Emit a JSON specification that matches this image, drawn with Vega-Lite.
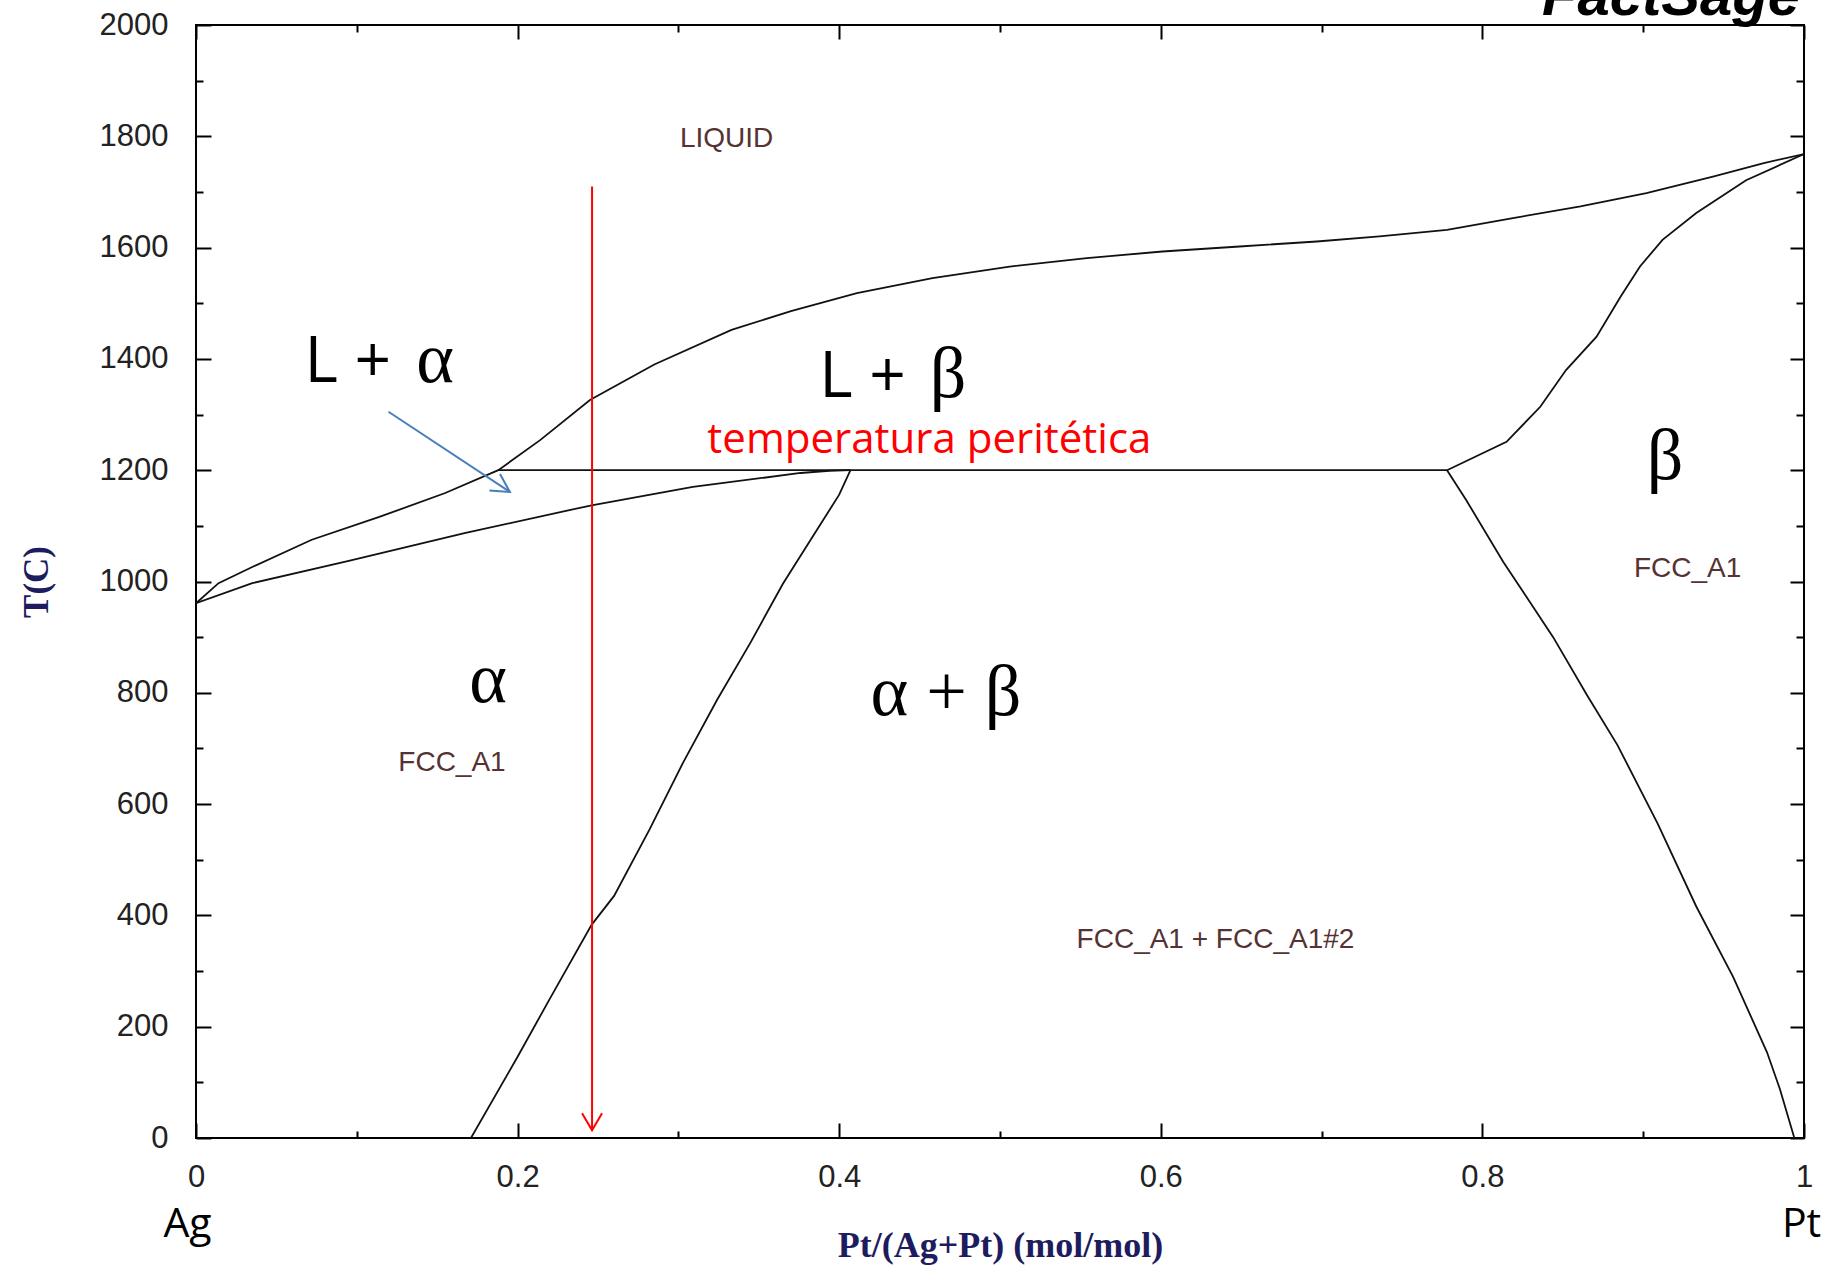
{
  "$schema": "https://vega.github.io/schema/vega-lite/v6.json",
  "width": 1608,
  "height": 1113,
  "autosize": {"type": "none"},
  "padding": {"left": 196, "top": 25, "right": 27, "bottom": 133},
  "background": "white",
  "config": {
    "view": {"stroke": "#000", "strokeWidth": 2},
    "axis": {"grid": false, "domain": false}
  },
  "datasets": {
    "curves": [
      {"curve": "liquidus", "i": 0, "x": 0, "T": 961},
      {"curve": "liquidus", "i": 1, "x": 0.014, "T": 997},
      {"curve": "liquidus", "i": 2, "x": 0.035, "T": 1026},
      {"curve": "liquidus", "i": 3, "x": 0.072, "T": 1075},
      {"curve": "liquidus", "i": 4, "x": 0.114, "T": 1116},
      {"curve": "liquidus", "i": 5, "x": 0.155, "T": 1159},
      {"curve": "liquidus", "i": 6, "x": 0.188, "T": 1200},
      {"curve": "liquidus", "i": 7, "x": 0.214, "T": 1254},
      {"curve": "liquidus", "i": 8, "x": 0.245, "T": 1326},
      {"curve": "liquidus", "i": 9, "x": 0.285, "T": 1390},
      {"curve": "liquidus", "i": 10, "x": 0.333, "T": 1452},
      {"curve": "liquidus", "i": 11, "x": 0.37, "T": 1486},
      {"curve": "liquidus", "i": 12, "x": 0.411, "T": 1518},
      {"curve": "liquidus", "i": 13, "x": 0.458, "T": 1545},
      {"curve": "liquidus", "i": 14, "x": 0.506, "T": 1566},
      {"curve": "liquidus", "i": 15, "x": 0.554, "T": 1581},
      {"curve": "liquidus", "i": 16, "x": 0.601, "T": 1593},
      {"curve": "liquidus", "i": 17, "x": 0.649, "T": 1602},
      {"curve": "liquidus", "i": 18, "x": 0.697, "T": 1611},
      {"curve": "liquidus", "i": 19, "x": 0.736, "T": 1620},
      {"curve": "liquidus", "i": 20, "x": 0.778, "T": 1632},
      {"curve": "liquidus", "i": 21, "x": 0.819, "T": 1653},
      {"curve": "liquidus", "i": 22, "x": 0.861, "T": 1674},
      {"curve": "liquidus", "i": 23, "x": 0.902, "T": 1698},
      {"curve": "liquidus", "i": 24, "x": 0.944, "T": 1728},
      {"curve": "liquidus", "i": 25, "x": 0.975, "T": 1752},
      {"curve": "liquidus", "i": 26, "x": 1, "T": 1768},
      {"curve": "solidusA", "i": 0, "x": 0, "T": 961},
      {"curve": "solidusA", "i": 1, "x": 0.035, "T": 997},
      {"curve": "solidusA", "i": 2, "x": 0.095, "T": 1037},
      {"curve": "solidusA", "i": 3, "x": 0.167, "T": 1087},
      {"curve": "solidusA", "i": 4, "x": 0.246, "T": 1137},
      {"curve": "solidusA", "i": 5, "x": 0.309, "T": 1170},
      {"curve": "solidusA", "i": 6, "x": 0.376, "T": 1195},
      {"curve": "solidusA", "i": 7, "x": 0.394, "T": 1199},
      {"curve": "solidusA", "i": 8, "x": 0.407, "T": 1200},
      {"curve": "solvusA", "i": 0, "x": 0.407, "T": 1200},
      {"curve": "solvusA", "i": 1, "x": 0.4, "T": 1156},
      {"curve": "solvusA", "i": 2, "x": 0.386, "T": 1092},
      {"curve": "solvusA", "i": 3, "x": 0.365, "T": 996},
      {"curve": "solvusA", "i": 4, "x": 0.345, "T": 891},
      {"curve": "solvusA", "i": 5, "x": 0.324, "T": 787},
      {"curve": "solvusA", "i": 6, "x": 0.303, "T": 675},
      {"curve": "solvusA", "i": 7, "x": 0.282, "T": 554},
      {"curve": "solvusA", "i": 8, "x": 0.26, "T": 435},
      {"curve": "solvusA", "i": 9, "x": 0.246, "T": 383},
      {"curve": "solvusA", "i": 10, "x": 0.22, "T": 250},
      {"curve": "solvusA", "i": 11, "x": 0.2, "T": 146},
      {"curve": "solvusA", "i": 12, "x": 0.171, "T": 0},
      {"curve": "peritectic", "i": 0, "x": 0.188, "T": 1200},
      {"curve": "peritectic", "i": 1, "x": 0.778, "T": 1200},
      {"curve": "solidusB", "i": 0, "x": 0.778, "T": 1200},
      {"curve": "solidusB", "i": 1, "x": 0.815, "T": 1251},
      {"curve": "solidusB", "i": 2, "x": 0.836, "T": 1314},
      {"curve": "solidusB", "i": 3, "x": 0.852, "T": 1380},
      {"curve": "solidusB", "i": 4, "x": 0.871, "T": 1440},
      {"curve": "solidusB", "i": 5, "x": 0.886, "T": 1512},
      {"curve": "solidusB", "i": 6, "x": 0.898, "T": 1566},
      {"curve": "solidusB", "i": 7, "x": 0.912, "T": 1614},
      {"curve": "solidusB", "i": 8, "x": 0.933, "T": 1662},
      {"curve": "solidusB", "i": 9, "x": 0.964, "T": 1721},
      {"curve": "solidusB", "i": 10, "x": 1, "T": 1768},
      {"curve": "solvusB", "i": 0, "x": 0.778, "T": 1200},
      {"curve": "solvusB", "i": 1, "x": 0.79, "T": 1146},
      {"curve": "solvusB", "i": 2, "x": 0.813, "T": 1035},
      {"curve": "solvusB", "i": 3, "x": 0.844, "T": 900},
      {"curve": "solvusB", "i": 4, "x": 0.865, "T": 796},
      {"curve": "solvusB", "i": 5, "x": 0.884, "T": 706},
      {"curve": "solvusB", "i": 6, "x": 0.909, "T": 565},
      {"curve": "solvusB", "i": 7, "x": 0.933, "T": 416},
      {"curve": "solvusB", "i": 8, "x": 0.956, "T": 289},
      {"curve": "solvusB", "i": 9, "x": 0.977, "T": 154},
      {"curve": "solvusB", "i": 10, "x": 0.985, "T": 88},
      {"curve": "solvusB", "i": 11, "x": 0.994, "T": 0}
    ],
    "regions": [
      {"label": "LIQUID", "x": 0.33, "T": 1781},
      {"label": "FCC_A1", "x": 0.1592, "T": 660},
      {"label": "FCC_A1", "x": 0.9276, "T": 1008},
      {"label": "FCC_A1 + FCC_A1#2", "x": 0.634, "T": 341}
    ],
    "lplus": [
      {"label": "L +", "x": 0.1213, "T": 1359},
      {"label": "L +", "x": 0.4415, "T": 1332}
    ],
    "greek": [
      {"label": "α", "x": 0.1487, "T": 1359},
      {"label": "β", "x": 0.4677, "T": 1332},
      {"label": "α", "x": 0.1816, "T": 784},
      {"label": "α + β", "x": 0.4664, "T": 761},
      {"label": "β", "x": 0.9136, "T": 1185}
    ],
    "redText": [
      {"label": "temperatura peritética", "x": 0.318, "T": 1231}
    ],
    "redArrow": [
      {"x": 0.2463, "T": 1710, "T2": 14}
    ],
    "blueArrow": [
      {"x": 0.1197, "T": 1305, "x2": 0.1952, "T2": 1161}
    ],
    "ends": [
      {"label": "Ag", "x": -0.0053, "T": -177},
      {"label": "Pt", "x": 0.9985, "T": -178}
    ],
    "brand": [
      {"label": "FactSage", "x": 0.9975, "T": 2018}
    ]
  },
  "resolve": {"axis": {"x": "independent", "y": "independent"}},
  "layer": [
    {
      "data": {"name": "curves"},
      "mark": {"type": "line", "stroke": "#111", "strokeWidth": 1.8, "clip": true},
      "encoding": {
        "x": {
          "field": "x", "type": "quantitative",
          "scale": {"domain": [0, 1], "nice": false, "zero": false},
          "axis": {
            "orient": "bottom", "values": [0, 0.2, 0.4, 0.6, 0.8, 1], "format": "~g",
            "ticks": false, "tickSize": 0, "labelFlush": false, "labelPadding": 24,
            "labelFont": "Liberation Sans", "labelFontSize": 31, "labelColor": "#222",
            "title": "Pt/(Ag+Pt) (mol/mol)", "titleFont": "Liberation Serif", "titleFontWeight": "bold",
            "titleFontSize": 36, "titleColor": "#1c1c5e", "titlePadding": 36
          }
        },
        "y": {
          "field": "T", "type": "quantitative",
          "scale": {"domain": [0, 2000], "nice": false, "zero": false},
          "axis": {
            "orient": "left", "values": [0, 200, 400, 600, 800, 1000, 1200, 1400, 1600, 1800, 2000], "format": "d",
            "ticks": false, "tickSize": 0, "labelPadding": 28,
            "labelFont": "Liberation Sans", "labelFontSize": 31, "labelColor": "#222",
            "title": "T(C)", "titleFont": "Liberation Serif", "titleFontWeight": "bold",
            "titleFontSize": 35, "titleColor": "#1c1c5e", "titlePadding": 45
          }
        },
        "detail": {"field": "curve"},
        "order": {"field": "i", "type": "quantitative"}
      }
    },
    {
      "data": {"name": "regions"},
      "mark": {"type": "text", "font": "Liberation Sans", "fontSize": 28, "fill": "#553333", "align": "center", "baseline": "alphabetic"},
      "encoding": {
        "x": {"field": "x", "type": "quantitative", "axis": {"orient": "bottom", "values": [0, 0.2, 0.4, 0.6, 0.8, 1], "labels": false, "tickSize": -15, "tickWidth": 2, "tickColor": "#000", "title": null}},
        "y": {"field": "T", "type": "quantitative", "axis": {"orient": "left", "values": [0, 200, 400, 600, 800, 1000, 1200, 1400, 1600, 1800, 2000], "labels": false, "tickSize": -15, "tickWidth": 2, "tickColor": "#000", "title": null}},
        "text": {"field": "label"}
      }
    },
    {
      "data": {"name": "lplus"},
      "mark": {"type": "text", "font": "Open Sans", "fontSize": 64, "fill": "#000", "align": "right", "baseline": "alphabetic"},
      "encoding": {
        "x": {"field": "x", "type": "quantitative", "axis": {"orient": "bottom", "values": [0.1, 0.3, 0.5, 0.7, 0.9], "labels": false, "tickSize": -7, "tickWidth": 2, "tickColor": "#000", "title": null}},
        "y": {"field": "T", "type": "quantitative", "axis": {"orient": "left", "values": [100, 300, 500, 700, 900, 1100, 1300, 1500, 1700, 1900], "labels": false, "tickSize": -7, "tickWidth": 2, "tickColor": "#000", "title": null}},
        "text": {"field": "label"}
      }
    },
    {
      "data": {"name": "greek"},
      "mark": {"type": "text", "font": "Liberation Serif", "fontSize": 72, "fill": "#000", "align": "center", "baseline": "alphabetic"},
      "encoding": {
        "x": {"field": "x", "type": "quantitative", "axis": {"orient": "top", "values": [0, 0.2, 0.4, 0.6, 0.8, 1], "labels": false, "tickSize": -14, "tickWidth": 2, "tickColor": "#000", "title": null}},
        "y": {"field": "T", "type": "quantitative", "axis": {"orient": "right", "values": [0, 200, 400, 600, 800, 1000, 1200, 1400, 1600, 1800, 2000], "labels": false, "tickSize": -14, "tickWidth": 2, "tickColor": "#000", "title": null}},
        "text": {"field": "label"}
      }
    },
    {
      "data": {"name": "redText"},
      "mark": {"type": "text", "font": "Open Sans", "fontSize": 42, "fill": "#ff0000", "align": "left", "baseline": "alphabetic"},
      "encoding": {
        "x": {"field": "x", "type": "quantitative", "axis": {"orient": "top", "values": [0.1, 0.3, 0.5, 0.7, 0.9], "labels": false, "tickSize": -7, "tickWidth": 2, "tickColor": "#000", "title": null}},
        "y": {"field": "T", "type": "quantitative", "axis": {"orient": "right", "values": [100, 300, 500, 700, 900, 1100, 1300, 1500, 1700, 1900], "labels": false, "tickSize": -8, "tickWidth": 2, "tickColor": "#000", "title": null}},
        "text": {"field": "label"}
      }
    },
    {
      "data": {"name": "redArrow"},
      "mark": {"type": "rule", "stroke": "#ff0000", "strokeWidth": 2},
      "encoding": {
        "x": {"field": "x", "type": "quantitative", "axis": null},
        "y": {"field": "T", "type": "quantitative", "axis": null},
        "y2": {"field": "T2"}
      }
    },
    {
      "data": {"name": "redArrow"},
      "mark": {"type": "point", "shape": "M-1,-1.7L0,0L1,-1.7", "size": 400, "filled": false, "stroke": "#ff0000", "strokeWidth": 2, "opacity": 1},
      "encoding": {
        "x": {"field": "x", "type": "quantitative", "axis": null},
        "y": {"field": "T2", "type": "quantitative", "axis": null}
      }
    },
    {
      "data": {"name": "blueArrow"},
      "mark": {"type": "rule", "stroke": "#4a7ebb", "strokeWidth": 2},
      "encoding": {
        "x": {"field": "x", "type": "quantitative", "axis": null},
        "y": {"field": "T", "type": "quantitative", "axis": null},
        "x2": {"field": "x2"},
        "y2": {"field": "T2"}
      }
    },
    {
      "data": {"name": "blueArrow"},
      "mark": {"type": "point", "shape": "M-1,-0.55L0,0L-1,0.55", "size": 1296, "angle": 32.4, "filled": false, "stroke": "#4a7ebb", "strokeWidth": 2, "opacity": 1},
      "encoding": {
        "x": {"field": "x2", "type": "quantitative", "axis": null},
        "y": {"field": "T2", "type": "quantitative", "axis": null}
      }
    },
    {
      "data": {"name": "ends"},
      "mark": {"type": "text", "font": "Open Sans", "fontSize": 41, "fill": "#000", "align": "center", "baseline": "alphabetic"},
      "encoding": {
        "x": {"field": "x", "type": "quantitative", "axis": null},
        "y": {"field": "T", "type": "quantitative", "axis": null},
        "text": {"field": "label"}
      }
    },
    {
      "data": {"name": "brand"},
      "mark": {"type": "text", "font": "Liberation Sans", "fontSize": 58, "fontWeight": "bold", "fontStyle": "italic", "fill": "#000", "align": "right", "baseline": "alphabetic"},
      "encoding": {
        "x": {"field": "x", "type": "quantitative", "axis": null},
        "y": {"field": "T", "type": "quantitative", "axis": null},
        "text": {"field": "label"}
      }
    }
  ]
}
